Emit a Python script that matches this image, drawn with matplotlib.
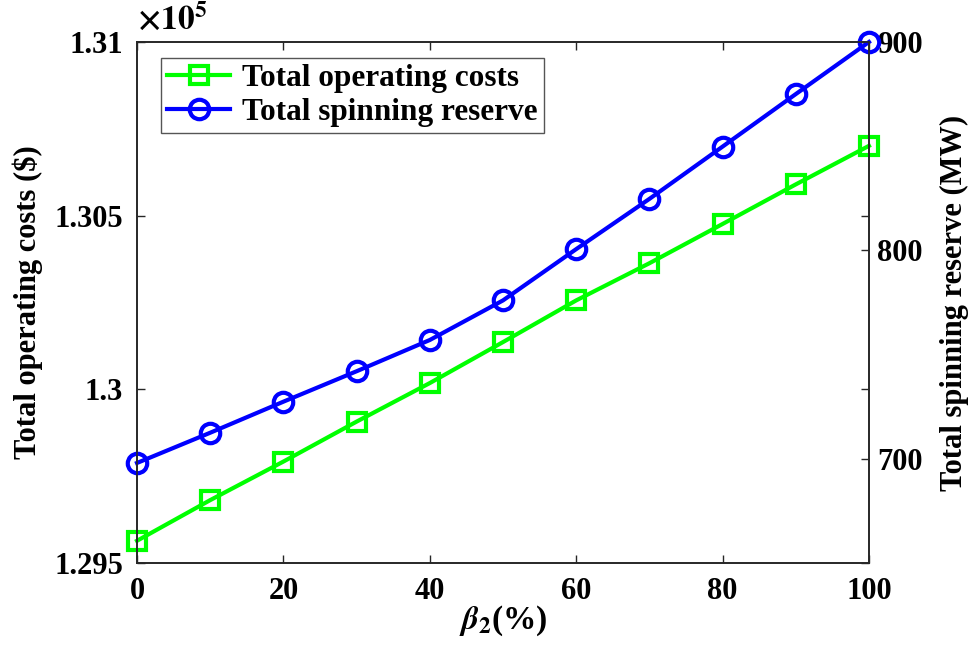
import numpy as np
import matplotlib
matplotlib.use("Agg")
import matplotlib.pyplot as plt

plt.rcParams['font.family'] = ['Liberation Serif', 'DejaVu Serif']
plt.rcParams['font.weight'] = 'bold'
plt.rcParams['mathtext.fontset'] = 'stix'

# data
beta2 = [0, 10, 20, 30, 40, 50, 60, 70, 80, 90, 100]
# total operating costs, in units of 1e5 $
op_costs = [1.29564, 1.29681, 1.29792, 1.29907, 1.30018, 1.30136,
            1.30256, 1.30363, 1.30476, 1.30590, 1.30701]
# total spinning reserve, MW
spin_reserve = [698, 712.5, 727.4, 742, 757, 776, 800.6, 824.7, 849.8, 875, 900]

left_ticks = [1.295, 1.3, 1.305, 1.31]
left_labels = ['1.295', '1.3', '1.305', '1.31']
right_ticks = [700, 800, 900]
x_ticks = [0, 20, 40, 60, 80, 100]

fig = plt.figure(figsize=(9.8, 6.46), dpi=100)
ax = fig.add_axes([0.1398, 0.1285, 0.7469, 0.8065])
ax2 = ax.twinx()

l1, = ax.plot(beta2, op_costs, color=(0, 1, 0), lw=3, marker='s', ms=13,
              mfc='none', mec=(0, 1, 0), mew=3, clip_on=False,
              label='Total operating costs')
l2, = ax2.plot(beta2, spin_reserve, color=(0, 0, 1), lw=3, marker='o', ms=14,
               mfc='none', mec=(0, 0, 1), mew=3, clip_on=False,
               label='Total spinning reserve')

ax.set_xlim(0, 100)
ax.set_ylim(1.295, 1.31)
ax2.set_ylim(650, 900)

ax.set_xticks(x_ticks)
ax.set_yticks(left_ticks)
ax.set_yticklabels(left_labels)
ax2.set_yticks(right_ticks)

for a in (ax, ax2):
    for s in a.spines.values():
        s.set_color('#262626')
        s.set_linewidth(1.2)
ax.tick_params(direction='in', length=6, width=1.0, top=True, right=True,
               labelsize=22, pad=10, colors='#262626', labelcolor='black')
ax2.tick_params(direction='in', length=6, width=1.0, labelsize=22, pad=6,
                colors='#262626', labelcolor='black')

ax.set_ylabel('Total operating costs ($)', fontsize=22, fontweight='bold', labelpad=8)
ax2.set_ylabel('Total spinning reserve (MW)', fontsize=22, fontweight='bold', labelpad=12)
ax.set_xlabel(r'$\beta_{\mathbf{2}}$(%)', fontsize=24, fontweight='bold', labelpad=-2)

ax.text(0.0, 1.01, r'$\times\mathbf{10^{5}}$', transform=ax.transAxes,
        fontsize=24, ha='left', va='bottom')

leg = ax.legend(handles=[l1, l2], loc='upper left', fontsize=22,
                bbox_to_anchor=(0.033, 0.97), borderaxespad=0,
                fancybox=False, framealpha=1, edgecolor='#555555',
                handlelength=2.0, handletextpad=0.4, borderpad=0.2,
                labelspacing=0.15, prop={'weight': 'bold', 'size': 22.5})
leg.get_frame().set_linewidth(1.0)

fig.savefig('out.png', dpi=100)
